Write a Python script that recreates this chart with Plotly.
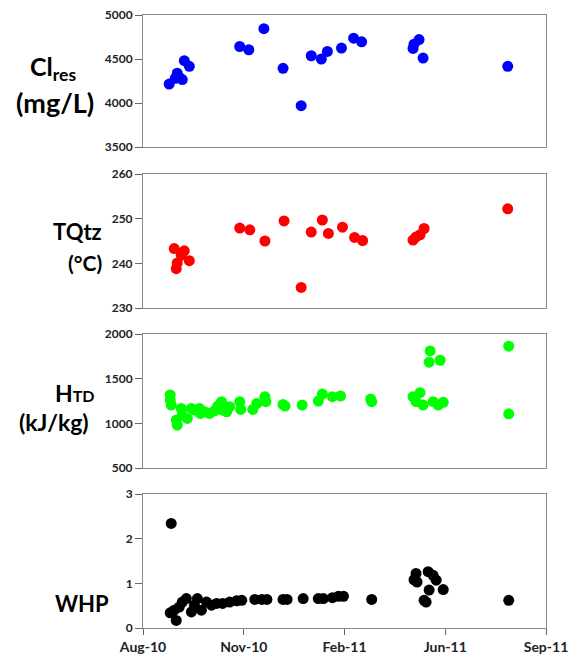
import plotly.graph_objects as go
from plotly.subplots import make_subplots

# ---- data ----
cl_dates = ["2010-09-03", "2010-09-09", "2010-09-11", "2010-09-13", "2010-09-16", "2010-09-18",
            "2010-09-23", "2010-11-12", "2010-11-21", "2010-12-06", "2010-12-25", "2011-01-12",
            "2011-01-22", "2011-02-01", "2011-02-07", "2011-02-21", "2011-03-05", "2011-03-13",
            "2011-05-03", "2011-05-04", "2011-05-09", "2011-05-13", "2011-08-05"]
cl_values = [4215, 4280, 4338, 4292, 4266, 4481, 4417, 4642, 4605, 4845, 4394, 3970,
             4537, 4500, 4586, 4624, 4737, 4695, 4620, 4669, 4721, 4511, 4417]

tq_dates = ["2010-09-08", "2010-09-18", "2010-09-15", "2010-09-11", "2010-09-10", "2010-09-23",
            "2010-11-12", "2010-11-22", "2010-12-07", "2010-12-26", "2011-01-12", "2011-01-22",
            "2011-02-02", "2011-02-08", "2011-02-22", "2011-03-06", "2011-03-14", "2011-05-03",
            "2011-05-06", "2011-05-10", "2011-05-14", "2011-08-05"]
tq_values = [243.3, 242.8, 241.8, 240.1, 238.8, 240.6, 247.9, 247.5, 245.0, 249.5, 234.6, 247.0,
             249.7, 246.7, 248.1, 245.8, 245.1, 245.2, 245.9, 246.4, 247.8, 252.2]

h_dates = ["2010-09-04", "2010-09-04", "2010-09-05", "2010-09-10", "2010-09-11", "2010-09-15",
           "2010-09-16", "2010-09-21", "2010-09-25", "2010-09-28", "2010-10-03", "2010-10-04",
           "2010-10-08", "2010-10-13", "2010-10-18", "2010-10-21", "2010-10-25", "2010-10-26",
           "2010-10-30", "2010-11-02", "2010-11-12", "2010-11-13", "2010-11-25", "2010-11-29",
           "2010-12-07", "2010-12-08", "2010-12-25", "2010-12-27", "2011-01-13", "2011-01-29",
           "2011-02-02", "2011-02-12", "2011-02-20", "2011-03-22", "2011-03-23", "2011-05-03",
           "2011-05-06", "2011-05-10", "2011-05-13", "2011-05-19", "2011-05-20", "2011-05-30",
           "2011-05-23", "2011-05-28", "2011-06-02", "2011-08-06", "2011-08-06"]
h_values = [1317, 1260, 1204, 1036, 980, 1167, 1092, 1055, 1167, 1150, 1167, 1111,
            1130, 1111, 1140, 1190, 1242, 1148, 1129, 1186, 1242, 1156, 1156, 1223,
            1298, 1242, 1212, 1193, 1204, 1249, 1328, 1298, 1306, 1272, 1242, 1298,
            1242, 1343, 1204, 1684, 1811, 1706, 1242, 1204, 1235, 1864, 1107]

w_dates = ["2010-09-05", "2010-09-04", "2010-09-10", "2010-09-08", "2010-09-13", "2010-09-16",
           "2010-09-20", "2010-09-25", "2010-09-28", "2010-10-01", "2010-10-05", "2010-10-10",
           "2010-10-15", "2010-10-20", "2010-10-26", "2010-11-02", "2010-11-09", "2010-11-14",
           "2010-11-27", "2010-12-04", "2010-12-09", "2010-12-25", "2010-12-29", "2011-01-14",
           "2011-01-29", "2011-02-03", "2011-02-12", "2011-02-18", "2011-02-23", "2011-03-23",
           "2011-05-06", "2011-05-04", "2011-05-07", "2011-05-18", "2011-05-23", "2011-05-26",
           "2011-05-19", "2011-05-14", "2011-05-16", "2011-06-02", "2011-08-06"]
w_values = [2.34, 0.34, 0.17, 0.40, 0.47, 0.58, 0.66, 0.36, 0.51, 0.66, 0.40, 0.58,
            0.51, 0.55, 0.55, 0.58, 0.61, 0.62, 0.64, 0.64, 0.64, 0.64, 0.64, 0.66,
            0.66, 0.66, 0.68, 0.71, 0.71, 0.64, 1.22, 1.08, 1.03, 1.26, 1.18, 1.07,
            0.85, 0.62, 0.58, 0.86, 0.62]

x_tick_vals = ["2010-08-08", "2010-11-16", "2011-02-24", "2011-06-04", "2011-09-12"]
x_tick_text = ["Aug-10", "Nov-10", "Feb-11", "Jun-11", "Sep-11"]

series = [
    (cl_dates, cl_values, "#0000FF"),
    (tq_dates, tq_values, "#FF0000"),
    (h_dates, h_values, "#00FF00"),
    (w_dates, w_values, "#000000"),
]
y_ranges = [(3500, 5000, 500), (230, 260, 10), (500, 2000, 500), (0, 3, 1)]

# page has an 8px body margin, so the figure is drawn 8px in from the window edge
OFF = 8
W, H = 580 - 2 * OFF, 662 - 2 * OFF
ml, mt = 143 - OFF, 15 - OFF
mr = W - (546 - OFF)
mb = H - (628 - OFF)
ph = H - mt - mb

def ypaper(py):
    return (H - mb - (py - OFF)) / ph

fig = make_subplots(rows=4, cols=1, shared_xaxes=True, vertical_spacing=0.04)

for i, (xd, yv, col) in enumerate(series):
    fig.add_trace(go.Scatter(x=xd, y=yv, mode="markers",
                             marker=dict(color=col, size=11, line=dict(width=0)),
                             showlegend=False, cliponaxis=False), row=i + 1, col=1)

panel_px = [(15, 147), (174, 308), (334, 468), (494, 628)]
tickfont = dict(family="Lato", size=12, color="#222", weight="bold")
for i, ((top, bot), (lo, hi, dt)) in enumerate(zip(panel_px, y_ranges)):
    n = i + 1
    fig.update_yaxes(range=[lo, hi], dtick=dt, tick0=lo, domain=[ypaper(bot), ypaper(top)],
                     automargin=False, ticklabeloverflow="allow",
                     showgrid=False, zeroline=False, showline=True, mirror=True,
                     linecolor="#888888", linewidth=1, ticks="outside", ticklen=7,
                     tickcolor="#666666", tickfont=tickfont, row=n, col=1)
    fig.update_xaxes(type="date", range=[x_tick_vals[0], x_tick_vals[-1]],
                     automargin=False, ticklabeloverflow="allow",
                     showgrid=False, zeroline=False, showline=True, mirror=True,
                     linecolor="#888888", linewidth=1,
                     ticks="outside" if n == 4 else "", ticklen=6, tickcolor="#666666",
                     tickvals=x_tick_vals, ticktext=x_tick_text,
                     showticklabels=(n == 4),
                     tickfont=dict(family="Lato", size=14, color="#222", weight="bold"),
                     row=n, col=1)

labels = [
    ("Cl<sub>res</sub>", 53, 68, 25),
    ("(mg/L)", 55, 103, 27),
    ("TQtz", 77, 232, 22),
    ("(°C)", 85, 262, 21),
    ("H<span style='font-size:16px'>TD</span>", 75, 393, 23),
    ("(kJ/kg)", 54, 422, 23),
    ("WHP", 82, 603, 22),
]
for txt, cx, cy, fs in labels:
    fig.add_annotation(text=txt, xref="paper", yref="paper", x=0, y=ypaper(cy),
                       xanchor="center", yanchor="middle", xshift=cx - 143, showarrow=False,
                       font=dict(family="Lato", size=fs, color="#000", weight="bold"))

fig.update_layout(width=W, height=H, margin=dict(l=ml, r=mr, t=mt, b=mb, autoexpand=False),
                  paper_bgcolor="white", plot_bgcolor="white")
fig.write_html("out.html")
